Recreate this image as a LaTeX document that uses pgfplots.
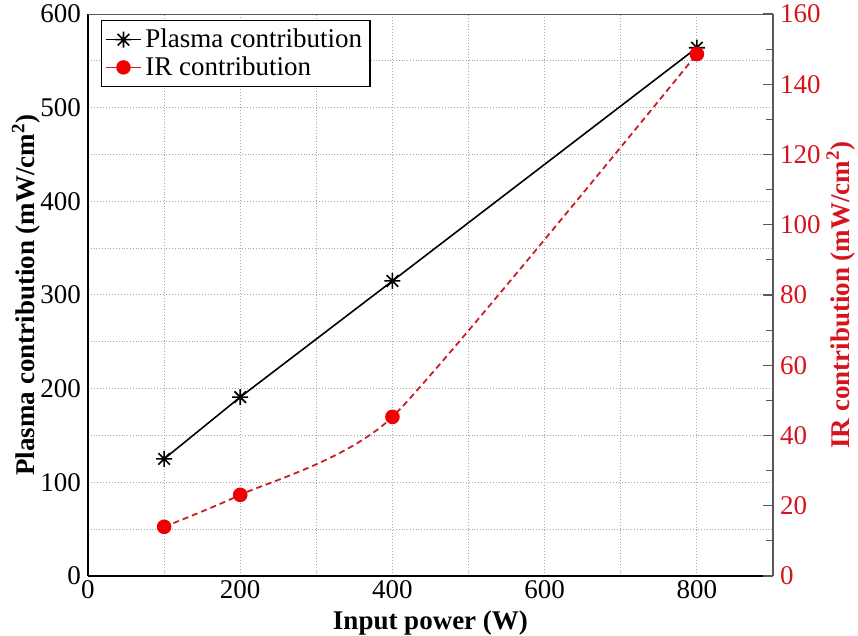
\documentclass[border=0pt]{standalone}
\usepackage{fontspec}
\setmainfont{Liberation Serif}
\usepackage{pgfplots}
\pgfplotsset{compat=1.18}

\definecolor{irline}{RGB}{200,30,40}
\definecolor{irmark}{RGB}{240,0,0}
\definecolor{irtext}{RGB}{215,20,30}

% eight-armed star like the grace "star" symbol
\pgfdeclareplotmark{star8}{%
  \pgfpathmoveto{\pgfqpoint{-\pgfplotmarksize}{0pt}}\pgfpathlineto{\pgfqpoint{\pgfplotmarksize}{0pt}}%
  \pgfpathmoveto{\pgfqpoint{0pt}{-\pgfplotmarksize}}\pgfpathlineto{\pgfqpoint{0pt}{\pgfplotmarksize}}%
  \pgfpathmoveto{\pgfqpoint{-0.72\pgfplotmarksize}{-0.72\pgfplotmarksize}}\pgfpathlineto{\pgfqpoint{0.72\pgfplotmarksize}{0.72\pgfplotmarksize}}%
  \pgfpathmoveto{\pgfqpoint{-0.72\pgfplotmarksize}{0.72\pgfplotmarksize}}\pgfpathlineto{\pgfqpoint{0.72\pgfplotmarksize}{-0.72\pgfplotmarksize}}%
  \pgfusepathqstroke}

\newcommand{\bigfont}{\fontsize{13.5}{16}\selectfont}

\begin{document}
\begin{tikzpicture}
\useasboundingbox (-44pt,-30pt) rectangle (385pt,288pt);

\begin{axis}[
	scale only axis,
	width=342.5pt, height=281pt,
	xmin=0, xmax=900,
	ymin=0, ymax=600,
	xtick={0,200,400,600,800},
	minor xtick={100,300,500,700},
	ytick={0,100,...,600},
	minor ytick={50,150,...,550},
	grid=both,
	grid style={densely dotted, line width=0.5pt, draw=gray!70},
	major grid style={densely dotted, line width=0.5pt, draw=gray!70},
	major tick length=0pt, minor tick length=0pt,
	axis y line*=left,
	axis x line*=bottom,
	axis line style={line width=0.8pt},
	/pgf/number format/assume math mode=true,
	ticklabel style={font=\bigfont},
	xticklabel style={inner sep=2pt},
	xlabel={\textbf{Input power (W)}},
	ylabel={\textbf{Plasma contribution (mW/cm$^{\mathbf 2}$)}},
	label style={font=\bigfont},
	xlabel style={at={(axis description cs:0.5,0)}, anchor=base, yshift=-27pt, inner sep=1pt},
	ylabel style={yshift=-7pt},
	legend style={at={(0.019,0.989)}, anchor=north west, font=\bigfont,
		draw=black, line width=0.6pt, inner sep=2pt, row sep=-1pt,
		legend cell align=left},
	legend image post style={line width=0.8pt},
]
\addplot[black, line width=0.8pt, mark=star8, mark size=4pt,
	mark options={solid, line width=0.8pt}] coordinates {
	(100,125) (200,191) (400,315) (800,564)
};
\addlegendentry{Plasma contribution}
\addlegendimage{irline, line width=0.8pt, solid, mark=*, mark size=3.2pt,
	mark options={fill=irmark, draw=irmark}}
\addlegendentry{IR contribution}
\draw[gray!70!black, line width=0.8pt] (rel axis cs:0,1) -- (rel axis cs:1,1);
\end{axis}

\begin{axis}[
	scale only axis,
	width=342.5pt, height=281pt,
	xmin=0, xmax=900,
	ymin=0, ymax=160,
	ytick={0,20,...,160},
	minor ytick={10,30,...,150},
	major tick length=5pt, minor tick length=3.5pt,
	axis y line*=right,
	axis x line=none,
	axis line style={line width=0.8pt, draw=gray!70!black},
	tick style={line width=0.6pt, draw=gray!70!black},
	/pgf/number format/assume math mode=true,
	yticklabel style={font=\bigfont, text=irtext},
	ylabel={\textbf{IR contribution (mW/cm$^{\mathbf 2}$)}},
	ylabel style={font=\bigfont, text=irtext, yshift=4pt},
]
\addplot[irline, line width=0.9pt, densely dashed, smooth, tension=0.35,
	mark=*, mark size=3.2pt, mark options={solid, fill=irmark, draw=irmark}] coordinates {
	(100,14.0) (200,23.1) (400,45.3) (800,148.6)
};
\end{axis}
\end{tikzpicture}
\end{document}
